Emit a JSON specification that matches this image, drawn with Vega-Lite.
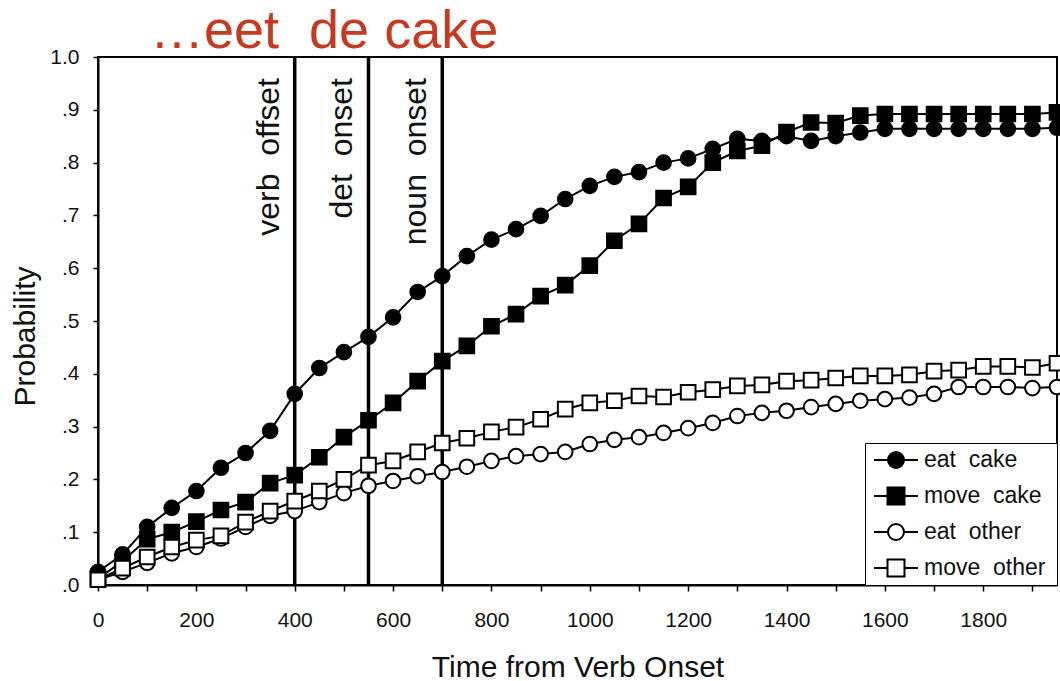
{
  "$schema": "https://vega.github.io/schema/vega-lite/v6.json",
  "width": 959,
  "height": 528,
  "autosize": {"type": "none"},
  "padding": {"left": 98, "top": 57, "right": 3, "bottom": 96},
  "background": "white",
  "config": {
    "font": "Liberation Sans",
    "view": {"stroke": "black", "strokeWidth": 2},
    "axis": {
      "grid": false,
      "domainColor": "black",
      "domainWidth": 2,
      "tickColor": "black",
      "tickWidth": 1.5,
      "labelColor": "#111",
      "labelFont": "Liberation Sans",
      "labelFontSize": 21,
      "titleFont": "Liberation Sans",
      "titleFontSize": 30,
      "titleFontWeight": "normal",
      "titleColor": "#111"
    },
    "legend": {
      "orient": "bottom-right",
      "offset": 0,
      "padding": 4,
      "strokeColor": "black",
      "fillColor": "white",
      "symbolSize": 576,
      "symbolStrokeWidth": 2,
      "symbolStrokeColor": "black",
      "symbolOffset": 14,
      "labelOffset": 15,
      "labelFont": "Liberation Sans",
      "labelFontSize": 23,
      "labelColor": "#111",
      "rowPadding": 10,
      "titleOrient": "right",
      "titlePadding": 8,
      "titleFontSize": 10
    }
  },
  "title": {
    "text": "…eet\u00a0 de cake",
    "anchor": "start",
    "frame": "group",
    "font": "Liberation Sans",
    "fontSize": 54,
    "fontWeight": "normal",
    "color": "#c43a22",
    "baseline": "alphabetic",
    "dx": 52,
    "dy": 56,
    "offset": 0
  },
  "datasets": {
    "events": [
      {"t": 400, "label": "verb\u00a0 offset"},
      {"t": 550, "label": "det\u00a0 onset"},
      {"t": 700, "label": "noun\u00a0 onset"}
    ],
    "curves": [
      {"series": "eat cake", "t": 0, "p": 0.025},
      {"series": "eat cake", "t": 50, "p": 0.058},
      {"series": "eat cake", "t": 100, "p": 0.11},
      {"series": "eat cake", "t": 150, "p": 0.146},
      {"series": "eat cake", "t": 200, "p": 0.178},
      {"series": "eat cake", "t": 250, "p": 0.222},
      {"series": "eat cake", "t": 300, "p": 0.25},
      {"series": "eat cake", "t": 350, "p": 0.292},
      {"series": "eat cake", "t": 400, "p": 0.362},
      {"series": "eat cake", "t": 450, "p": 0.411},
      {"series": "eat cake", "t": 500, "p": 0.441},
      {"series": "eat cake", "t": 550, "p": 0.47},
      {"series": "eat cake", "t": 600, "p": 0.507},
      {"series": "eat cake", "t": 650, "p": 0.555},
      {"series": "eat cake", "t": 700, "p": 0.585},
      {"series": "eat cake", "t": 750, "p": 0.623},
      {"series": "eat cake", "t": 800, "p": 0.654},
      {"series": "eat cake", "t": 850, "p": 0.674},
      {"series": "eat cake", "t": 900, "p": 0.699},
      {"series": "eat cake", "t": 950, "p": 0.731},
      {"series": "eat cake", "t": 1000, "p": 0.756},
      {"series": "eat cake", "t": 1050, "p": 0.773},
      {"series": "eat cake", "t": 1100, "p": 0.782},
      {"series": "eat cake", "t": 1150, "p": 0.8},
      {"series": "eat cake", "t": 1200, "p": 0.808},
      {"series": "eat cake", "t": 1250, "p": 0.826},
      {"series": "eat cake", "t": 1300, "p": 0.845},
      {"series": "eat cake", "t": 1350, "p": 0.841},
      {"series": "eat cake", "t": 1400, "p": 0.85},
      {"series": "eat cake", "t": 1450, "p": 0.841},
      {"series": "eat cake", "t": 1500, "p": 0.85},
      {"series": "eat cake", "t": 1550, "p": 0.857},
      {"series": "eat cake", "t": 1600, "p": 0.864},
      {"series": "eat cake", "t": 1650, "p": 0.864},
      {"series": "eat cake", "t": 1700, "p": 0.864},
      {"series": "eat cake", "t": 1750, "p": 0.864},
      {"series": "eat cake", "t": 1800, "p": 0.864},
      {"series": "eat cake", "t": 1850, "p": 0.864},
      {"series": "eat cake", "t": 1900, "p": 0.864},
      {"series": "eat cake", "t": 1950, "p": 0.866},
      {"series": "move cake", "t": 0, "p": 0.012},
      {"series": "move cake", "t": 50, "p": 0.045},
      {"series": "move cake", "t": 100, "p": 0.087},
      {"series": "move cake", "t": 150, "p": 0.1},
      {"series": "move cake", "t": 200, "p": 0.12},
      {"series": "move cake", "t": 250, "p": 0.142},
      {"series": "move cake", "t": 300, "p": 0.157},
      {"series": "move cake", "t": 350, "p": 0.193},
      {"series": "move cake", "t": 400, "p": 0.208},
      {"series": "move cake", "t": 450, "p": 0.242},
      {"series": "move cake", "t": 500, "p": 0.28},
      {"series": "move cake", "t": 550, "p": 0.312},
      {"series": "move cake", "t": 600, "p": 0.345},
      {"series": "move cake", "t": 650, "p": 0.386},
      {"series": "move cake", "t": 700, "p": 0.424},
      {"series": "move cake", "t": 750, "p": 0.453},
      {"series": "move cake", "t": 800, "p": 0.49},
      {"series": "move cake", "t": 850, "p": 0.513},
      {"series": "move cake", "t": 900, "p": 0.547},
      {"series": "move cake", "t": 950, "p": 0.568},
      {"series": "move cake", "t": 1000, "p": 0.605},
      {"series": "move cake", "t": 1050, "p": 0.652},
      {"series": "move cake", "t": 1100, "p": 0.684},
      {"series": "move cake", "t": 1150, "p": 0.733},
      {"series": "move cake", "t": 1200, "p": 0.754},
      {"series": "move cake", "t": 1250, "p": 0.8},
      {"series": "move cake", "t": 1300, "p": 0.822},
      {"series": "move cake", "t": 1350, "p": 0.832},
      {"series": "move cake", "t": 1400, "p": 0.858},
      {"series": "move cake", "t": 1450, "p": 0.876},
      {"series": "move cake", "t": 1500, "p": 0.875},
      {"series": "move cake", "t": 1550, "p": 0.889},
      {"series": "move cake", "t": 1600, "p": 0.892},
      {"series": "move cake", "t": 1650, "p": 0.892},
      {"series": "move cake", "t": 1700, "p": 0.892},
      {"series": "move cake", "t": 1750, "p": 0.892},
      {"series": "move cake", "t": 1800, "p": 0.892},
      {"series": "move cake", "t": 1850, "p": 0.892},
      {"series": "move cake", "t": 1900, "p": 0.892},
      {"series": "move cake", "t": 1950, "p": 0.895},
      {"series": "eat other", "t": 0, "p": 0.01},
      {"series": "eat other", "t": 50, "p": 0.025},
      {"series": "eat other", "t": 100, "p": 0.042},
      {"series": "eat other", "t": 150, "p": 0.06},
      {"series": "eat other", "t": 200, "p": 0.072},
      {"series": "eat other", "t": 250, "p": 0.088},
      {"series": "eat other", "t": 300, "p": 0.11},
      {"series": "eat other", "t": 350, "p": 0.131},
      {"series": "eat other", "t": 400, "p": 0.14},
      {"series": "eat other", "t": 450, "p": 0.157},
      {"series": "eat other", "t": 500, "p": 0.174},
      {"series": "eat other", "t": 550, "p": 0.188},
      {"series": "eat other", "t": 600, "p": 0.197},
      {"series": "eat other", "t": 650, "p": 0.206},
      {"series": "eat other", "t": 700, "p": 0.214},
      {"series": "eat other", "t": 750, "p": 0.224},
      {"series": "eat other", "t": 800, "p": 0.235},
      {"series": "eat other", "t": 850, "p": 0.244},
      {"series": "eat other", "t": 900, "p": 0.248},
      {"series": "eat other", "t": 950, "p": 0.252},
      {"series": "eat other", "t": 1000, "p": 0.267},
      {"series": "eat other", "t": 1050, "p": 0.275},
      {"series": "eat other", "t": 1100, "p": 0.28},
      {"series": "eat other", "t": 1150, "p": 0.288},
      {"series": "eat other", "t": 1200, "p": 0.297},
      {"series": "eat other", "t": 1250, "p": 0.307},
      {"series": "eat other", "t": 1300, "p": 0.32},
      {"series": "eat other", "t": 1350, "p": 0.326},
      {"series": "eat other", "t": 1400, "p": 0.33},
      {"series": "eat other", "t": 1450, "p": 0.337},
      {"series": "eat other", "t": 1500, "p": 0.343},
      {"series": "eat other", "t": 1550, "p": 0.349},
      {"series": "eat other", "t": 1600, "p": 0.352},
      {"series": "eat other", "t": 1650, "p": 0.355},
      {"series": "eat other", "t": 1700, "p": 0.362},
      {"series": "eat other", "t": 1750, "p": 0.375},
      {"series": "eat other", "t": 1800, "p": 0.375},
      {"series": "eat other", "t": 1850, "p": 0.375},
      {"series": "eat other", "t": 1900, "p": 0.373},
      {"series": "eat other", "t": 1950, "p": 0.375},
      {"series": "move other", "t": 0, "p": 0.01},
      {"series": "move other", "t": 50, "p": 0.032},
      {"series": "move other", "t": 100, "p": 0.053},
      {"series": "move other", "t": 150, "p": 0.072},
      {"series": "move other", "t": 200, "p": 0.085},
      {"series": "move other", "t": 250, "p": 0.093},
      {"series": "move other", "t": 300, "p": 0.119},
      {"series": "move other", "t": 350, "p": 0.14},
      {"series": "move other", "t": 400, "p": 0.159},
      {"series": "move other", "t": 450, "p": 0.178},
      {"series": "move other", "t": 500, "p": 0.2},
      {"series": "move other", "t": 550, "p": 0.227},
      {"series": "move other", "t": 600, "p": 0.235},
      {"series": "move other", "t": 650, "p": 0.252},
      {"series": "move other", "t": 700, "p": 0.269},
      {"series": "move other", "t": 750, "p": 0.278},
      {"series": "move other", "t": 800, "p": 0.29},
      {"series": "move other", "t": 850, "p": 0.299},
      {"series": "move other", "t": 900, "p": 0.314},
      {"series": "move other", "t": 950, "p": 0.333},
      {"series": "move other", "t": 1000, "p": 0.345},
      {"series": "move other", "t": 1050, "p": 0.349},
      {"series": "move other", "t": 1100, "p": 0.358},
      {"series": "move other", "t": 1150, "p": 0.356},
      {"series": "move other", "t": 1200, "p": 0.365},
      {"series": "move other", "t": 1250, "p": 0.37},
      {"series": "move other", "t": 1300, "p": 0.377},
      {"series": "move other", "t": 1350, "p": 0.379},
      {"series": "move other", "t": 1400, "p": 0.386},
      {"series": "move other", "t": 1450, "p": 0.388},
      {"series": "move other", "t": 1500, "p": 0.392},
      {"series": "move other", "t": 1550, "p": 0.396},
      {"series": "move other", "t": 1600, "p": 0.396},
      {"series": "move other", "t": 1650, "p": 0.398},
      {"series": "move other", "t": 1700, "p": 0.405},
      {"series": "move other", "t": 1750, "p": 0.407},
      {"series": "move other", "t": 1800, "p": 0.414},
      {"series": "move other", "t": 1850, "p": 0.414},
      {"series": "move other", "t": 1900, "p": 0.412},
      {"series": "move other", "t": 1950, "p": 0.42}
    ]
  },
  "layer": [
    {
      "data": {"name": "curves"},
      "mark": {"type": "line", "color": "black", "strokeWidth": 2},
      "encoding": {
        "x": {
          "field": "t",
          "type": "quantitative",
          "scale": {"domain": [0, 1950], "nice": false, "zero": false},
          "axis": {
            "title": "Time from Verb Onset",
            "values": [0, 50, 100, 150, 200, 250, 300, 350, 400, 450, 500, 550, 600, 650, 700, 750, 800, 850, 900, 950, 1000, 1050, 1100, 1150, 1200, 1250, 1300, 1350, 1400, 1450, 1500, 1550, 1600, 1650, 1700, 1750, 1800, 1850, 1900],
            "format": "d",
            "labelExpr": "datum.value % 200 == 0 ? datum.label : ''",
            "labelOverlap": false,
            "labelFlush": false,
            "tickSize": 6,
            "labelPadding": 18,
            "titleY": 91,
            "titleBaseline": "alphabetic"
          }
        },
        "y": {
          "field": "p",
          "type": "quantitative",
          "scale": {"domain": [0, 1], "nice": false},
          "axis": {
            "title": "Probability",
            "values": [0, 0.1, 0.2, 0.3, 0.4, 0.5, 0.6, 0.7, 0.8, 0.9, 1],
            "labelExpr": "datum.value == 1 ? '1.0' : replace(format(datum.value, '.1f'), '0.', '.')",
            "tickSize": 5,
            "labelPadding": 14,
            "titleAngle": 270,
            "titleX": -64,
            "titleY": 279,
            "titleAlign": "center",
            "titleBaseline": "alphabetic"
          }
        },
        "detail": {"field": "series"}
      }
    },
    {
      "data": {"name": "events"},
      "mark": {"type": "rule", "color": "black", "strokeWidth": 3.5},
      "encoding": {
        "x": {"field": "t", "type": "quantitative"}
      }
    },
    {
      "data": {"name": "events"},
      "mark": {
        "type": "text",
        "angle": 270,
        "align": "right",
        "baseline": "middle",
        "dx": -21,
        "dy": -26,
        "font": "Liberation Sans",
        "fontSize": 32,
        "color": "#111"
      },
      "encoding": {
        "x": {"field": "t", "type": "quantitative"},
        "y": {"datum": 1, "type": "quantitative"},
        "text": {"field": "label"}
      }
    },
    {
      "data": {"name": "curves"},
      "transform": [{"filter": {"field": "series", "oneOf": ["eat cake", "eat other"]}}],
      "mark": {"type": "point", "shape": "circle", "filled": true, "stroke": "black", "strokeWidth": 2, "opacity": 1, "size": 215},
      "encoding": {
        "x": {"field": "t", "type": "quantitative"},
        "y": {"field": "p", "type": "quantitative"},
        "fill": {
          "field": "series",
          "type": "nominal",
          "scale": {"domain": ["eat cake", "move cake", "eat other", "move other"], "range": ["black", "black", "white", "white"]},
          "legend": {
            "title": "\u00a0",
            "labelExpr": "replace(datum.label, ' ', '\u00a0 ')",
            "symbolType": {"expr": "indexof(['eat cake', 'eat other'], datum.value) >= 0 ? 'M-1.833,0H-0.667M0.667,0H1.833M-0.667,0A0.667,0.667,0,1,0,0.667,0A0.667,0.667,0,1,0,-0.667,0Z' : 'M-1.833,0H-0.708M0.708,0H1.833M-0.708,-0.708H0.708V0.708H-0.708Z'"},
            "encode": {
              "symbols": {
                "stroke": {"value": "black"},
                "strokeWidth": {"value": 2}
              }
            }
          }
        }
      }
    },
    {
      "data": {"name": "curves"},
      "transform": [{"filter": {"field": "series", "oneOf": ["move cake", "move other"]}}],
      "mark": {"type": "point", "shape": "square", "filled": true, "stroke": "black", "strokeWidth": 2, "opacity": 1, "size": 215},
      "encoding": {
        "x": {"field": "t", "type": "quantitative"},
        "y": {"field": "p", "type": "quantitative"},
        "fill": {
          "field": "series",
          "type": "nominal",
          "scale": {"domain": ["eat cake", "move cake", "eat other", "move other"], "range": ["black", "black", "white", "white"]},
          "legend": {
            "title": "\u00a0",
            "labelExpr": "replace(datum.label, ' ', '\u00a0 ')",
            "symbolType": {"expr": "indexof(['eat cake', 'eat other'], datum.value) >= 0 ? 'M-1.833,0H-0.667M0.667,0H1.833M-0.667,0A0.667,0.667,0,1,0,0.667,0A0.667,0.667,0,1,0,-0.667,0Z' : 'M-1.833,0H-0.708M0.708,0H1.833M-0.708,-0.708H0.708V0.708H-0.708Z'"},
            "encode": {
              "symbols": {
                "stroke": {"value": "black"},
                "strokeWidth": {"value": 2}
              }
            }
          }
        }
      }
    }
  ]
}
